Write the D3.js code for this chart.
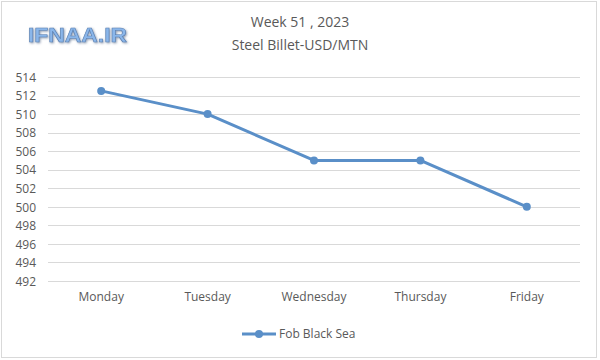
<!DOCTYPE html>
<html><head><meta charset="utf-8">
<script src="https://cdn.jsdelivr.net/npm/d3@7"></script>
<style>body{margin:0;background:#fff}svg{display:block}</style>
</head><body>
<svg id="c" width="600" height="360"></svg>
<script>
const categories = ["Monday","Tuesday","Wednesday","Thursday","Friday"];
const values = [512.5, 510, 505, 505, 500];
const yTicks = [492,494,496,498,500,502,504,506,508,510,512,514];
const seriesName = "Fob Black Sea";
const titleLines = ["Week 51 , 2023","Steel Billet-USD/MTN"];

(function(){
const svg = d3.select("#c");
const font = "'Open Sans', 'Noto Sans', sans-serif";
const textCol = "#595959";
const lineCol = "#5a8fc8";

svg.append("rect").attr("x",1.5).attr("y",1.5).attr("width",595).attr("height",356)
  .attr("fill","#fff").attr("stroke","#d9d9d9").attr("stroke-width",1);

const pL = 48, pR = 580, pT = 77, pB = 281;
const x = d3.scaleBand().domain(categories).range([pL,pR]);
const y = d3.scaleLinear().domain([492,514]).range([pB,pT]);

const grid = svg.append("g");
yTicks.forEach(t=>{
  grid.append("line").attr("x1",pL).attr("x2",pR).attr("y1",Math.round(y(t))+0.5).attr("y2",Math.round(y(t))+0.5)
    .attr("stroke","#d9d9d9").attr("stroke-width",1);
});

const yAxis = d3.axisLeft(y).tickValues(yTicks).tickSize(0).tickPadding(0);
const gy = svg.append("g").attr("transform",`translate(36,0)`).call(yAxis);
gy.select(".domain").remove();
gy.selectAll("text").attr("font-family",font).attr("font-size",12).attr("fill",textCol).attr("dy","0.35em");

const xAxis = d3.axisBottom(x).tickSize(0).tickPadding(0);
const gx = svg.append("g").attr("transform",`translate(0,293)`).call(xAxis);
gx.select(".domain").remove();
gx.selectAll("text").attr("font-family",font).attr("font-size",12).attr("fill",textCol).attr("dy","0.7em");

const line = d3.line().x((d,i)=>x(categories[i])+x.bandwidth()/2).y(d=>y(d));
svg.append("path").datum(values).attr("d",line).attr("fill","none")
  .attr("stroke",lineCol).attr("stroke-width",3).attr("stroke-linejoin","round");
svg.selectAll("circle.pt").data(values).enter().append("circle").attr("class","pt")
  .attr("cx",(d,i)=>x(categories[i])+x.bandwidth()/2).attr("cy",d=>y(d)).attr("r",4).attr("fill",lineCol);

svg.selectAll("text.title").data(titleLines).enter().append("text").attr("class","title")
  .attr("x",300).attr("y",(d,i)=>27+i*23).attr("text-anchor","middle")
  .attr("font-family",font).attr("font-size",14).attr("fill",textCol).text(d=>d);

const defs = svg.append("defs");
const f = defs.append("filter").attr("id","sh").attr("x","-10%").attr("y","-30%").attr("width","130%").attr("height","160%");
f.append("feDropShadow").attr("dx",1).attr("dy",1).attr("stdDeviation",0.8).attr("flood-color","#4a5f80").attr("flood-opacity",0.6);
svg.append("text").attr("x",28).attr("y",42).attr("font-family","'Liberation Sans', Arial, sans-serif")
  .attr("font-size",21).attr("font-weight","bold").attr("fill","#8ab6ea").attr("stroke","#5a7fb0").attr("stroke-width",0.6)
  .attr("textLength",99).attr("lengthAdjust","spacingAndGlyphs")
  .attr("filter","url(#sh)").text("IFNAA.IR");

const lg = svg.append("g");
lg.append("line").attr("x1",242).attr("x2",276).attr("y1",334).attr("y2",334).attr("stroke",lineCol).attr("stroke-width",3);
lg.append("circle").attr("cx",259).attr("cy",334).attr("r",4).attr("fill",lineCol);
lg.append("text").attr("x",279).attr("y",334).attr("dy","0.35em").attr("font-family",font).attr("font-size",12)
  .attr("fill",textCol).text(seriesName);
})();
</script>
</body></html>
